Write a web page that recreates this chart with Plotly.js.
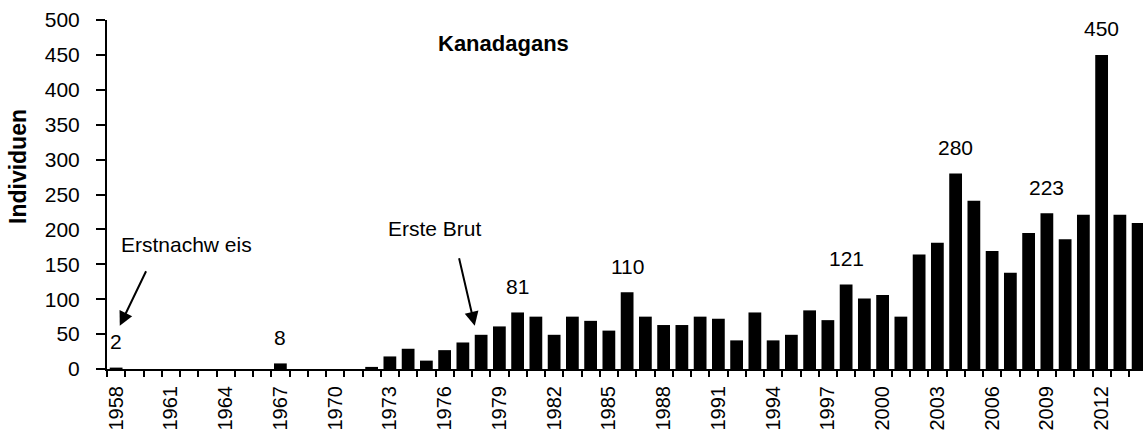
<!DOCTYPE html>
<html>
<head>
<meta charset="utf-8">
<script src="https://cdn.plot.ly/plotly-3.0.1.min.js"></script>
<style>html,body{margin:0;padding:0;background:#fff;}#chart{width:1143px;height:434px;}</style>
</head>
<body>
<div id="chart"></div>
<script>
const years = [1958,1959,1960,1961,1962,1963,1964,1965,1966,1967,1968,1969,1970,1971,1972,1973,1974,1975,1976,1977,1978,1979,1980,1981,1982,1983,1984,1985,1986,1987,1988,1989,1990,1991,1992,1993,1994,1995,1996,1997,1998,1999,2000,2001,2002,2003,2004,2005,2006,2007,2008,2009,2010,2011,2012,2013,2014];
const individuen = [2,0,0,0,0,0,0,0,0,8,0,0,0,0,3,18,29,12,27,38,49,61,81,75,49,75,69,55,110,75,63,63,75,72,41,81,41,49,84,70,121,101,106,75,164,181,280,241,169,138,195,223,186,221,450,221,209];
const tickYears = [1958,1961,1964,1967,1970,1973,1976,1979,1982,1985,1988,1991,1994,1997,2000,2003,2006,2009,2012];
const labelYears = [1958,1967,1980,1986,1998,2004,2009,2012];
const chartTitle = 'Kanadagans';
const yTitle = 'Individuen';
const noteFirst = {text: 'Erstnachw eis', year: 1958};
const noteBreed = {text: 'Erste Brut', year: 1978};

const FONT = '"Liberation Sans", Arial, sans-serif';
const W = 1143, H = 434, mL = 107, mR = 0, mT = 20, mB = 65;
const pw = W - mL - mR, ph = H - mT - mB;

const annotations = [];
labelYears.forEach(function (yr) {
  const v = individuen[years.indexOf(yr)];
  annotations.push({x: yr, y: v, xref: 'x', yref: 'y', text: String(v), showarrow: false,
    yanchor: 'middle', yshift: 26, font: {family: FONT, size: 21, color: '#000'}});
});
// Title
annotations.push({x: 1979.2, y: 466, xref: 'x', yref: 'y', text: '<b>' + chartTitle + '</b>', showarrow: false,
  font: {family: FONT, size: 22, color: '#000'}});
// Y-axis title
annotations.push({x: (18 - mL) / pw, y: (H - mB - 167) / ph, xref: 'paper', yref: 'paper',
  xanchor: 'center', yanchor: 'middle',
  text: '<b>' + yTitle + '</b>', showarrow: false,
  textangle: -90, font: {family: FONT, size: 23, color: '#000'}});
// Notes text
annotations.push({x: 1961.87, y: 179, xref: 'x', yref: 'y', text: noteFirst.text, showarrow: false,
  font: {family: FONT, size: 21, color: '#000'}});
annotations.push({x: 1975.46, y: 201, xref: 'x', yref: 'y', text: noteBreed.text, showarrow: false,
  font: {family: FONT, size: 21, color: '#000'}});
// Arrows
annotations.push({x: noteFirst.year + 0.2, y: 62, xref: 'x', yref: 'y', text: '', showarrow: true,
  ax: 27, ay: -56, arrowhead: 2, arrowsize: 1.4, arrowwidth: 2, arrowcolor: '#000', standoff: 0});
annotations.push({x: noteBreed.year - 0.35, y: 62, xref: 'x', yref: 'y', text: '', showarrow: true,
  ax: -16, ay: -69, arrowhead: 2, arrowsize: 1.4, arrowwidth: 2, arrowcolor: '#000', standoff: 0});

const xRange = [years[0] - 0.5, years[0] - 0.5 + pw / 18.25];

const data = [
  {type: 'bar', x: years, y: individuen, marker: {color: '#000', line: {width: 0}}, hoverinfo: 'none', xaxis: 'x', yaxis: 'y'},
  {type: 'scatter', x: [], y: [], xaxis: 'x2', yaxis: 'y', showlegend: false, hoverinfo: 'none'}
];

const layout = {
  width: W, height: H,
  margin: {l: mL, r: mR, t: mT, b: mB, pad: 0},
  paper_bgcolor: '#fff', plot_bgcolor: '#fff',
  showlegend: false,
  bargap: 0.3,
  hovermode: false,
  font: {family: FONT, color: '#000'},
  xaxis: {
    type: 'linear', range: xRange, showgrid: false, zeroline: false,
    showline: true, linecolor: '#000', linewidth: 2,
    ticks: '', tickmode: 'array', tickvals: tickYears, ticktext: tickYears.map(String),
    tickangle: -90, tickfont: {family: FONT, size: 20, color: '#000'}, ticklabelstandoff: 7
  },
  xaxis2: {
    type: 'linear', range: xRange, overlaying: 'x', anchor: 'y', side: 'bottom',
    showgrid: false, zeroline: false, showline: false, showticklabels: false,
    ticks: 'outside', ticklen: 7, tickwidth: 2, tickcolor: '#000',
    tickmode: 'linear', tick0: years[0] - 0.5, dtick: 1
  },
  yaxis: {
    range: [0, 500], showgrid: false, zeroline: false,
    showline: true, linecolor: '#000', linewidth: 2,
    ticks: 'outside', ticklen: 9, tickwidth: 2, tickcolor: '#000',
    tickmode: 'linear', tick0: 0, dtick: 50,
    tickfont: {family: FONT, size: 21, color: '#000'}, ticklabelstandoff: 12
  },
  annotations: annotations
};

Plotly.newPlot('chart', data, layout, {displayModeBar: false, staticPlot: true});
</script>
</body>
</html>
